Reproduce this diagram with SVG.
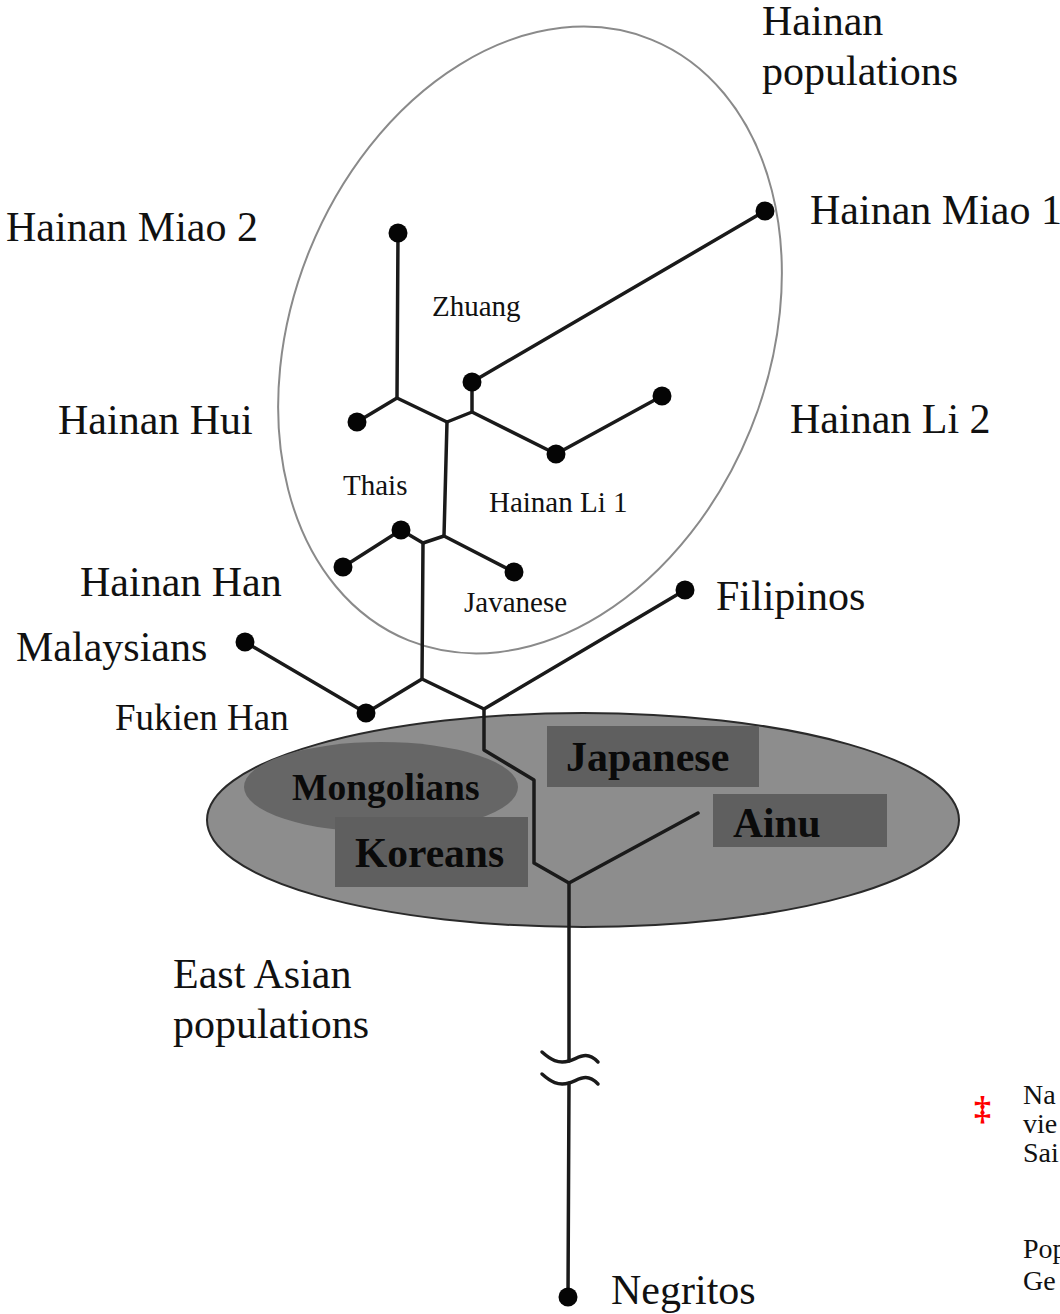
<svg xmlns="http://www.w3.org/2000/svg" width="1060" height="1314" viewBox="0 0 1060 1314">
<style>
.lbl{font-family:"Liberation Serif","Times New Roman",serif;font-size:42px;fill:#111}
.sm{font-family:"Liberation Serif","Times New Roman",serif;font-size:29px;fill:#111}
.bd{font-family:"Liberation Serif","Times New Roman",serif;font-weight:bold;font-size:41.5px;fill:#0a0a0a}
.note{font-family:"Liberation Serif","Times New Roman",serif;font-size:28px;fill:#111}
.ln{fill:none;stroke:#1a1a1a;stroke-width:3.5;stroke-linejoin:round;stroke-linecap:round}
.dot{fill:#050505}
.box{fill:#5f5f5f}
</style>
<rect width="1060" height="1314" fill="#ffffff"/>
<g id="hainan-group">
<ellipse cx="530" cy="340" rx="238" ry="324" transform="rotate(22 530 340)" fill="none" stroke="#8a8a8a" stroke-width="2"/>
<text class="lbl" x="762" y="35">Hainan</text>
<text class="lbl" x="762" y="85">populations</text>
</g>
<g id="east-asian-group">
<ellipse cx="583" cy="820" rx="376" ry="107" fill="#8d8d8d" stroke="#2a2a2a" stroke-width="2"/>
<text class="lbl" x="173" y="988">East Asian</text>
<text class="lbl" x="173" y="1038">populations</text>
</g>
<g id="mongolians">
<ellipse cx="381" cy="787" rx="137" ry="45" fill="#666666"/>
<text class="bd" x="292" y="800" style="font-size:37.5px">Mongolians</text>
</g>
<g id="koreans">
<rect class="box" x="335" y="817" width="193" height="70"/>
<text class="bd" x="355" y="867">Koreans</text>
</g>
<g id="japanese">
<rect class="box" x="547" y="726" width="212" height="61"/>
<text class="bd" x="566" y="771" style="font-size:42px">Japanese</text>
</g>
<g id="ainu">
<rect class="box" x="713" y="794" width="174" height="53"/>
<text class="bd" x="733" y="837">Ainu</text>
</g>
<g id="connectors">
<polyline class="ln" points="398,233 397,398 447,422"/>
<polyline class="ln" points="357,422 397,398"/>
<polyline class="ln" points="447,422 472,412 472,382"/>
<polyline class="ln" points="472,382 765,211"/>
<polyline class="ln" points="472,412 556,454 662,396"/>
<polyline class="ln" points="447,422 444,536 514,572"/>
<polyline class="ln" points="444,536 423,543 401,530 343,567"/>
<polyline class="ln" points="423,543 422,679 366,713 245,642"/>
<polyline class="ln" points="422,679 484,709 685,590"/>
<polyline class="ln" points="484,709 484,750 534,780 534,863 569,883 698,813"/>
<polyline class="ln" points="569,883 569,1061"/>
<path class="ln" d="M542,1052 C551,1060 558,1064 569,1061 C579,1058 586,1050 598,1062"/>
<path class="ln" d="M542,1074 C551,1082 558,1086 569,1083 C579,1080 586,1072 598,1084"/>
<polyline class="ln" points="569,1083 568,1297"/>
</g>
<g id="hainan-miao-2"><circle class="dot" cx="398" cy="233" r="9.5"/><text class="lbl" x="6" y="241">Hainan Miao 2</text></g>
<g id="hainan-miao-1"><circle class="dot" cx="765" cy="211" r="9.5"/><text class="lbl" x="810" y="224">Hainan Miao 1</text></g>
<g id="zhuang"><circle class="dot" cx="472" cy="382" r="9.5"/><text class="sm" x="432" y="316">Zhuang</text></g>
<g id="hainan-hui"><circle class="dot" cx="357" cy="422" r="9.5"/><text class="lbl" x="58" y="434">Hainan Hui</text></g>
<g id="hainan-li-1"><circle class="dot" cx="556" cy="454" r="9.5"/><text class="sm" x="489" y="512">Hainan Li 1</text></g>
<g id="hainan-li-2"><circle class="dot" cx="662" cy="396" r="9.5"/><text class="lbl" x="790" y="433">Hainan Li 2</text></g>
<g id="thais"><circle class="dot" cx="401" cy="530" r="9.5"/><text class="sm" x="343" y="495">Thais</text></g>
<g id="hainan-han"><circle class="dot" cx="343" cy="567" r="9.5"/><text class="lbl" x="80" y="596">Hainan Han</text></g>
<g id="javanese"><circle class="dot" cx="514" cy="572" r="9.5"/><text class="sm" x="464" y="612">Javanese</text></g>
<g id="filipinos"><circle class="dot" cx="685" cy="590" r="9.5"/><text class="lbl" x="716" y="610">Filipinos</text></g>
<g id="malaysians"><circle class="dot" cx="245" cy="642" r="9.5"/><text class="lbl" x="16" y="661">Malaysians</text></g>
<g id="fukien-han"><circle class="dot" cx="366" cy="713" r="9.5"/><text class="lbl" x="115" y="730" style="font-size:37px">Fukien Han</text></g>
<g id="negritos"><circle class="dot" cx="568" cy="1297" r="9.5"/><text class="lbl" x="611" y="1304">Negritos</text></g>
<g id="note">
<text x="974" y="1120" style="font-family:'Liberation Serif',serif;font-size:34px;font-weight:bold;fill:#ff0000">‡</text>
<text class="note" x="1023" y="1104">Na</text>
<text class="note" x="1023" y="1133">vie</text>
<text class="note" x="1023" y="1162">Sai</text>
<text class="note" x="1023" y="1258">Pop</text>
<text class="note" x="1023" y="1290">Ge</text>
</g>
</svg>
